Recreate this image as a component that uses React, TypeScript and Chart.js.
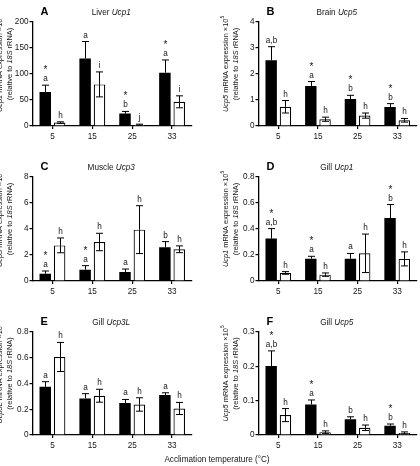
import React, { useEffect, useRef } from "react";
import { Chart, registerables } from "chart.js";

Chart.register(...registerables);

const FONT = '"Liberation Sans", Arial, Helvetica, sans-serif';
Chart.defaults.font.family = FONT;

const temperatures = ["5", "15", "25", "33"];

// A — Liver Ucp1
const liverUcp1Filled = [65.5, 130, 24, 102.5];
const liverUcp1FilledSem = [13, 32.5, 4, 24.5];
const liverUcp1Open = [6.5, 80, 2.5, 46.5];
const liverUcp1OpenSem = [1.5, 24, 1, 11.5];
const liverUcp1FilledLetters = ["a", "a", "b", "a"];
const liverUcp1OpenLetters = ["h", "i", "j", "i"];
const liverUcp1Stars = [true, false, true, true];
const liverUcp1Ticks = [0, 50, 100, 150, 200];

// B — Brain Ucp5
const brainUcp5Filled = [2.53, 1.54, 1.04, 0.73];
const brainUcp5FilledSem = [0.52, 0.17, 0.14, 0.13];
const brainUcp5Open = [0.74, 0.26, 0.4, 0.22];
const brainUcp5OpenSem = [0.24, 0.08, 0.1, 0.07];
const brainUcp5FilledLetters = ["a,b", "a", "b", "b"];
const brainUcp5OpenLetters = ["h", "h", "h", "h"];
const brainUcp5Stars = [false, true, true, true];
const brainUcp5Ticks = [0, 1, 2, 3, 4];

// C — Muscle Ucp3
const muscleUcp3Filled = [0.56, 0.87, 0.69, 2.59];
const muscleUcp3FilledSem = [0.21, 0.31, 0.23, 0.44];
const muscleUcp3Open = [2.74, 3.0, 3.95, 2.44];
const muscleUcp3OpenSem = [0.57, 0.67, 1.84, 0.26];
const muscleUcp3FilledLetters = ["a", "a", "a", "b"];
const muscleUcp3OpenLetters = ["h", "h", "h", "h"];
const muscleUcp3Stars = [true, true, false, false];
const muscleUcp3Ticks = [0, 2, 4, 6, 8];

// D — Gill Ucp1
const gillUcp1Filled = [0.326, 0.172, 0.172, 0.485];
const gillUcp1FilledSem = [0.077, 0.018, 0.04, 0.103];
const gillUcp1Open = [0.062, 0.049, 0.213, 0.17];
const gillUcp1OpenSem = [0.01, 0.013, 0.148, 0.054];
const gillUcp1FilledLetters = ["a,b", "a", "a", "b"];
const gillUcp1OpenLetters = ["h", "h", "h", "h"];
const gillUcp1Stars = [true, true, false, true];
const gillUcp1Ticks = [0, 0.2, 0.4, 0.6, 0.8];

// E — Gill Ucp3L
const gillUcp3LFilled = [0.374, 0.284, 0.248, 0.31];
const gillUcp3LFilledSem = [0.04, 0.037, 0.028, 0.018];
const gillUcp3LOpen = [0.606, 0.305, 0.237, 0.206];
const gillUcp3LOpenSem = [0.113, 0.05, 0.052, 0.047];
const gillUcp3LFilledLetters = ["a", "a", "a", "a"];
const gillUcp3LOpenLetters = ["h", "h", "h", "h"];
const gillUcp3LStars = [false, false, false, false];
const gillUcp3LTicks = [0, 0.2, 0.4, 0.6, 0.8];

// F — Gill Ucp5
const gillUcp5Filled = [0.201, 0.089, 0.046, 0.027];
const gillUcp5FilledSem = [0.044, 0.013, 0.007, 0.005];
const gillUcp5Open = [0.058, 0.008, 0.021, 0.006];
const gillUcp5OpenSem = [0.019, 0.004, 0.008, 0.003];
const gillUcp5FilledLetters = ["a,b", "a", "b", "b"];
const gillUcp5OpenLetters = ["h", "h", "h", "h"];
const gillUcp5Stars = [true, true, false, true];
const gillUcp5Ticks = [0, 0.1, 0.2, 0.3];

const xAxisTitle = "Acclimation temperature (°C)";

type Area = { left: number; top: number; right: number; bottom: number };
type Panel = {
  letter: string;
  tissue: string;
  gene: string;
  filled: number[];
  filledSem: number[];
  open: number[];
  openSem: number[];
  filledLetters: string[];
  openLetters: string[];
  stars: boolean[];
  ticks: number[];
  area: Area;
  xTitle?: boolean;
};

const LEFT_COL = { left: 32.5, right: 192 };
const RIGHT_COL = { left: 258.5, right: 417 };

const panels: Panel[] = [
  {
    letter: "A", tissue: "Liver", gene: "Ucp1",
    filled: liverUcp1Filled, filledSem: liverUcp1FilledSem,
    open: liverUcp1Open, openSem: liverUcp1OpenSem,
    filledLetters: liverUcp1FilledLetters, openLetters: liverUcp1OpenLetters,
    stars: liverUcp1Stars, ticks: liverUcp1Ticks,
    area: { ...LEFT_COL, top: 22, bottom: 126 },
  },
  {
    letter: "B", tissue: "Brain", gene: "Ucp5",
    filled: brainUcp5Filled, filledSem: brainUcp5FilledSem,
    open: brainUcp5Open, openSem: brainUcp5OpenSem,
    filledLetters: brainUcp5FilledLetters, openLetters: brainUcp5OpenLetters,
    stars: brainUcp5Stars, ticks: brainUcp5Ticks,
    area: { ...RIGHT_COL, top: 22, bottom: 126 },
  },
  {
    letter: "C", tissue: "Muscle", gene: "Ucp3",
    filled: muscleUcp3Filled, filledSem: muscleUcp3FilledSem,
    open: muscleUcp3Open, openSem: muscleUcp3OpenSem,
    filledLetters: muscleUcp3FilledLetters, openLetters: muscleUcp3OpenLetters,
    stars: muscleUcp3Stars, ticks: muscleUcp3Ticks,
    area: { ...LEFT_COL, top: 177, bottom: 281 },
  },
  {
    letter: "D", tissue: "Gill", gene: "Ucp1",
    filled: gillUcp1Filled, filledSem: gillUcp1FilledSem,
    open: gillUcp1Open, openSem: gillUcp1OpenSem,
    filledLetters: gillUcp1FilledLetters, openLetters: gillUcp1OpenLetters,
    stars: gillUcp1Stars, ticks: gillUcp1Ticks,
    area: { ...RIGHT_COL, top: 177, bottom: 281 },
  },
  {
    letter: "E", tissue: "Gill", gene: "Ucp3L",
    filled: gillUcp3LFilled, filledSem: gillUcp3LFilledSem,
    open: gillUcp3LOpen, openSem: gillUcp3LOpenSem,
    filledLetters: gillUcp3LFilledLetters, openLetters: gillUcp3LOpenLetters,
    stars: gillUcp3LStars, ticks: gillUcp3LTicks,
    area: { ...LEFT_COL, top: 332, bottom: 435 },
    xTitle: true,
  },
  {
    letter: "F", tissue: "Gill", gene: "Ucp5",
    filled: gillUcp5Filled, filledSem: gillUcp5FilledSem,
    open: gillUcp5Open, openSem: gillUcp5OpenSem,
    filledLetters: gillUcp5FilledLetters, openLetters: gillUcp5OpenLetters,
    stars: gillUcp5Stars, ticks: gillUcp5Ticks,
    area: { ...RIGHT_COL, top: 332, bottom: 435 },
  },
];

const W = 420;
const H = 466;
const Y_AXIS_W = 30;
const X_AXIS_H = 20;
const INK = "#151515";

type Seg = { t: string; it?: boolean; sup?: boolean };

function drawRich(
  ctx: CanvasRenderingContext2D,
  segs: Seg[],
  x: number,
  y: number,
  size: number
) {
  const fontOf = (s: Seg) =>
    `${s.it ? "italic " : ""}${s.sup ? size * 0.65 : size}px ${FONT}`;
  let total = 0;
  for (const s of segs) {
    ctx.font = fontOf(s);
    total += ctx.measureText(s.t).width;
  }
  let cx = x - total / 2;
  ctx.textAlign = "left";
  ctx.textBaseline = "middle";
  for (const s of segs) {
    ctx.font = fontOf(s);
    ctx.fillText(s.t, cx, s.sup ? y - size * 0.38 : y);
    cx += ctx.measureText(s.t).width;
  }
}

function annotations(panel: Panel) {
  return {
    id: "annotations",
    afterDatasetsDraw(chart: Chart) {
      const ctx = chart.ctx;
      const ys = chart.scales.y;
      const area = chart.chartArea;
      ctx.save();
      ctx.strokeStyle = "#000";
      ctx.fillStyle = INK;
      ctx.lineWidth = 1;

      const groups: [number[], number[], string[], boolean][] = [
        [panel.filled, panel.filledSem, panel.filledLetters, false],
        [panel.open, panel.openSem, panel.openLetters, true],
      ];
      groups.forEach(([vals, sems, letters, twoSided], d) => {
        const meta = chart.getDatasetMeta(d);
        vals.forEach((v, i) => {
          const bar: any = meta.data[i];
          const x = Math.round(bar.x) + 0.5;
          const cap = 7;
          const yv = ys.getPixelForValue(v);
          const yt = ys.getPixelForValue(v + sems[i]);
          ctx.beginPath();
          ctx.moveTo(x, yv);
          ctx.lineTo(x, yt);
          ctx.moveTo(x - cap / 2, yt);
          ctx.lineTo(x + cap / 2, yt);
          if (twoSided) {
            const yb = ys.getPixelForValue(Math.max(0, v - sems[i]));
            ctx.moveTo(x, yv);
            ctx.lineTo(x, yb);
            ctx.moveTo(x - cap / 2, yb);
            ctx.lineTo(x + cap / 2, yb);
          }
          ctx.stroke();

          ctx.textAlign = "center";
          ctx.textBaseline = "alphabetic";
          ctx.font = `8.2px ${FONT}`;
          ctx.fillText(letters[i], x, yt - 4);
          if (d === 0 && panel.stars[i]) {
            ctx.font = `10px ${FONT}`;
            ctx.fillText("*", x, yt - 12);
          }
        });
      });

      // panel letter and title
      ctx.textAlign = "left";
      ctx.textBaseline = "middle";
      ctx.font = `bold 11px ${FONT}`;
      ctx.fillStyle = "#000";
      ctx.fillText(panel.letter, area.left + 8, area.top - 10);
      ctx.fillStyle = INK;
      drawRich(
        ctx,
        [{ t: panel.tissue + " " }, { t: panel.gene, it: true }],
        (area.left + area.right) / 2 - 1,
        area.top - 9,
        8.2
      );

      // y-axis title
      const cy = (area.top + area.bottom) / 2 - 10;
      const lines: [Seg[], number][] = [
        [
          [
            { t: panel.gene, it: true },
            { t: " mRNA expression \u00d710" },
            { t: "5", sup: true },
          ],
          area.left - 33,
        ],
        [
          [{ t: "(relative to " }, { t: "18S", it: true }, { t: " rRNA)" }],
          area.left - 23,
        ],
      ];
      for (const [segs, lx] of lines) {
        ctx.save();
        ctx.translate(lx, cy);
        ctx.rotate(-Math.PI / 2);
        drawRich(ctx, segs, 0, 0, 7.4);
        ctx.restore();
      }

      if (panel.xTitle) {
        ctx.textAlign = "center";
        ctx.textBaseline = "middle";
        ctx.font = `8.2px ${FONT}`;
        ctx.fillText(xAxisTitle, 217, 460);
      }
      ctx.restore();
    },
  };
}

function PanelChart({ panel }: { panel: Panel }) {
  const ref = useRef<HTMLCanvasElement>(null);

  useEffect(() => {
    const { area, ticks } = panel;
    const axisGrid = {
      display: true,
      drawOnChartArea: false,
      drawTicks: true,
      tickLength: 3,
      color: "#000",
      lineWidth: 1.2,
    };
    const tickFont = { size: 8.2, family: FONT };
    const chart = new Chart(ref.current!, {
      type: "bar",
      data: {
        labels: temperatures,
        datasets: [
          {
            data: panel.filled,
            backgroundColor: "#000",
            borderColor: "#000",
            borderWidth: 0,
            categoryPercentage: 0.72,
            barPercentage: 0.8,
          },
          {
            data: panel.open,
            backgroundColor: "#fff",
            borderColor: "#000",
            borderWidth: 1.2,
            categoryPercentage: 0.72,
            barPercentage: 0.8,
          },
        ],
      },
      options: {
        responsive: false,
        animation: false,
        devicePixelRatio: 1,
        layout: {
          padding: {
            left: area.left - Y_AXIS_W,
            top: area.top,
            right: W - area.right,
            bottom: H - area.bottom - X_AXIS_H,
          },
        },
        plugins: {
          legend: { display: false },
          tooltip: { enabled: false },
          title: { display: false },
        },
        scales: {
          x: {
            type: "category",
            offset: true,
            grid: { ...axisGrid, offset: false },
            border: { display: true, color: "#000", width: 1.3 },
            ticks: {
              color: INK,
              font: tickFont,
              padding: 2.5,
              maxRotation: 0,
              autoSkip: false,
            },
            afterFit: (s: any) => {
              s.height = X_AXIS_H;
            },
          },
          y: {
            type: "linear",
            min: ticks[0],
            max: ticks[ticks.length - 1],
            grid: axisGrid,
            border: { display: true, color: "#000", width: 1.3 },
            ticks: {
              stepSize: ticks[1] - ticks[0],
              color: INK,
              font: tickFont,
              padding: 1,
            },
            afterFit: (s: any) => {
              s.width = Y_AXIS_W;
            },
          },
        },
      },
      plugins: [annotations(panel)],
    } as any);
    return () => chart.destroy();
  }, [panel]);

  return (
    <canvas
      ref={ref}
      width={W}
      height={H}
      style={{ position: "absolute", left: 0, top: 0, width: W, height: H }}
    />
  );
}

export default function App() {
  return (
    <div
      style={{
        position: "absolute",
        left: 0,
        top: 0,
        width: W,
        height: H,
        background: "#fff",
        overflow: "hidden",
      }}
    >
      {panels.map((p) => (
        <PanelChart key={p.letter} panel={p} />
      ))}
    </div>
  );
}
